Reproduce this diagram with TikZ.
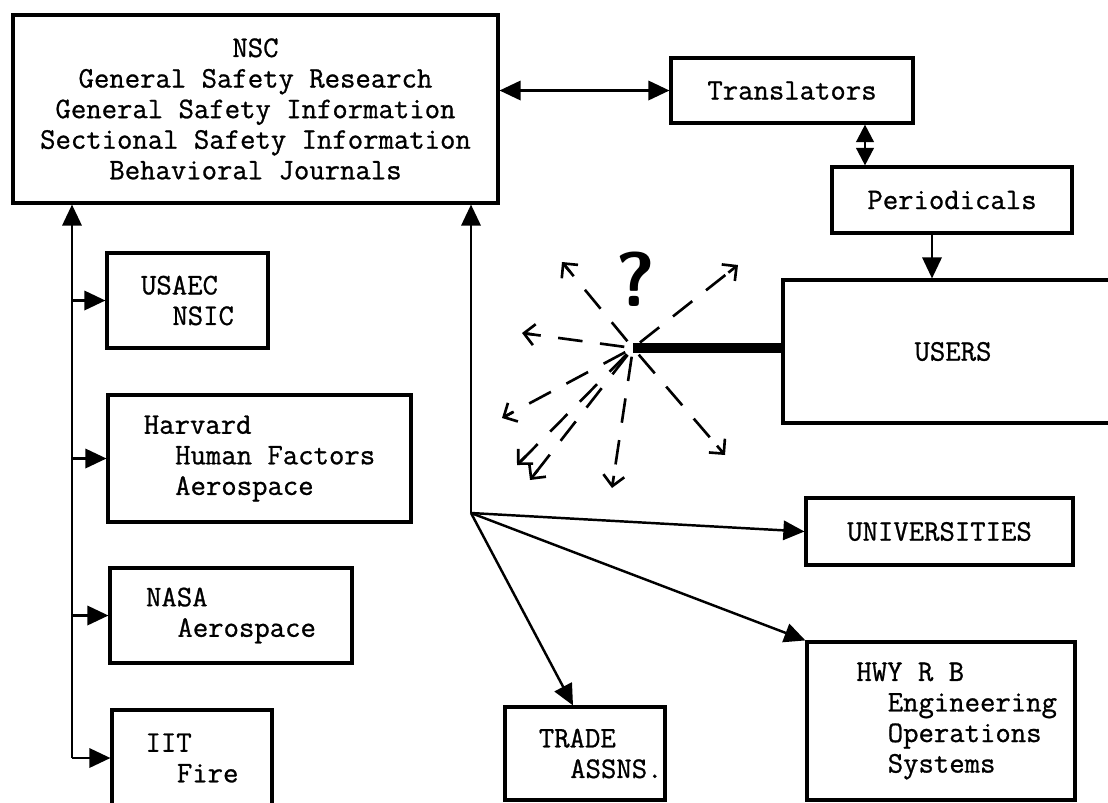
\documentclass[tikz,border=0pt]{standalone}
\usepackage{fontspec}
\usetikzlibrary{arrows.meta}
\usetikzlibrary{calc}

\newfontfamily\typefont{Latin Modern Mono}[FakeBold=0.9]
\newcommand{\typed}{\typefont\fontsize{17}{17.4}\selectfont}
\newcommand{\indt}{\hspace*{1.05em}}

\begin{document}
\begin{tikzpicture}[x=0.02cm,y=-0.02cm,line width=1.4pt,
>={Triangle[length=12pt,width=11pt]},
infoblock/.style={draw,rectangle,line width=1.8pt,inner sep=0pt,align=left,font=\typed},
burstray/.style={line width=1.5pt,dash pattern=on 14pt off 10pt,shorten <=5pt,shorten >=2pt},
raytip/.style={line width=1.5pt,solid,-{Straight Barb[length=6pt,width=12pt]}}]
\useasboundingbox (0,0) rectangle (1108,802);

% sources
\draw (255.5,109) node[infoblock,align=center,minimum width=9.7cm,minimum height=3.76cm] (nsc)
  {NSC\\General Safety Research\\General Safety Information\\Sectional Safety Information\\Behavioral Journals};
\draw (792,90.5) node[infoblock,minimum width=4.84cm,minimum height=1.3cm] (trans) {Translators};
\draw (952,200) node[infoblock,minimum width=4.8cm,minimum height=1.32cm] (per) {Periodicals};
\draw (953,351.5) node[infoblock,minimum width=6.8cm,minimum height=2.86cm] (users) {USERS};

% left column
\draw (187.5,300.5) node[infoblock,minimum width=3.22cm,minimum height=1.9cm] (usaec) {USAEC\\\indt NSIC};
\draw (259.5,458.5) node[infoblock,minimum width=6.06cm,minimum height=2.54cm] (harvard)
  {Harvard\\\indt Human Factors\\\indt Aerospace};
\draw (231,615.5) node[infoblock,minimum width=4.84cm,minimum height=1.9cm] (nasa) {NASA\\\indt Aerospace};
\draw (192,758) node[infoblock,minimum width=3.2cm,minimum height=1.92cm] (iit) {IIT\\\indt Fire};

% lower right
\draw (939.5,531.5) node[infoblock,minimum width=5.34cm,minimum height=1.34cm] (univ) {UNIVERSITIES};
\draw (941,721) node[infoblock,minimum width=5.36cm,minimum height=3.16cm] (hwy)
  {\indt HWY R B\\\indt\indt Engineering\\\indt\indt Operations\\\indt\indt Systems};
\draw (585,753.5) node[infoblock,minimum width=3.2cm,minimum height=1.86cm] (trade)
  {\indt TRADE\\\indt\indt ASSNS.};

% top chain
\draw[<->] (nsc.east |- trans.west) -- (trans.west);
\draw[<->,>={Triangle[length=10pt,width=10pt]}] (865,0 |- trans.south) -- (865,0 |- per.north);
\draw[->] (932,0 |- per.south) -- (932,0 |- users.north);

% spine on the left
\coordinate (spine) at (72,758);
\draw[->] (spine) -- (spine |- nsc.south);
\draw[->] (spine) -- (iit.west);
\foreach \n in {usaec,harvard,nasa}
  \draw[->] (spine |- \n.west) -- (\n.west);

% hub in the middle
\coordinate (hub) at (471,513);
\draw[->] (hub) -- (hub |- nsc.south);
\draw[->] (hub) -- (univ.west);
\draw[->] (hub) -- (hwy.north west);
\draw[->] (hub) -- (573,0 |- trade.north);

% users scatter
\coordinate (burst) at (633,348);
\draw[line width=5.5pt] (burst) -- (burst -| users.west);
\draw (636,279) node[font=\sffamily\bfseries\fontsize{44}{44}\selectfont] (query) {?};
\foreach \tx/\ty in {562/262,738/265,522/333,502/418,517/465,530/480,612/488,725/455}{
  \draw[burstray] (burst) -- (\tx,\ty);
  \draw[raytip] ($(\tx,\ty)!7pt!(burst)$) -- (\tx,\ty);
}

\end{tikzpicture}
\end{document}
